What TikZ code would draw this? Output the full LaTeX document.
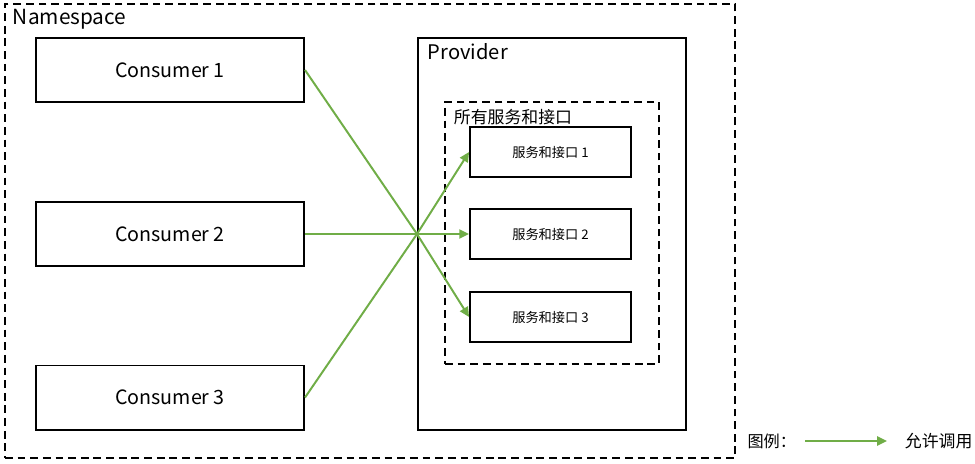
\documentclass[tikz,border=0pt]{standalone}
\usepackage{fontspec}
\setmainfont{Noto Sans CJK SC}
\usetikzlibrary{arrows.meta}
\definecolor{callgreen}{HTML}{70AD47}
\tikzset{
	box/.style={draw, line width=1.4pt, minimum width=6.7cm, minimum height=1.6cm, inner sep=0pt, font=\fontsize{14}{16}\selectfont},
	svcbox/.style={draw, line width=1.4pt, minimum width=4.02cm, minimum height=1.25cm, inner sep=0pt, font=\fontsize{9.4}{11}\selectfont},
	frame/.style={draw, line width=1.4pt, dash pattern=on 5.5pt off 3.5pt, inner sep=0pt},
	call/.style={callgreen, line width=1.4pt, -{Triangle[length=7pt,width=6.5pt]}},
}
\begin{document}
\begin{tikzpicture}[x=0.025cm, y=-0.025cm, line join=miter]
	\useasboundingbox (0,0) rectangle (975,463);
	%\draw[gray!40] (0,0) grid[step=50] (975,463);
	% namespace frame
	\node[frame, minimum width=18.25cm, minimum height=11.35cm] (ns) at (370,231) {};
	\node[anchor=west, font=\fontsize{14.8}{17}\selectfont] (nslabel) at (8,19) {Namespace};
	% consumers
	\node[box] (c1) at (170,70) {Consumer 1};
	\node[box] (c2) at (170,234) {Consumer 2};
	\node[box] (c3) at (170,397.5) {Consumer 3};
	% provider
	\node[box, minimum height=9.8cm] (prov) at (552,234) {};
	\node[anchor=west, font=\fontsize{14.3}{16}\selectfont] (provlabel) at (423,52) {Provider};
	\node[frame, minimum width=5.35cm, minimum height=6.55cm] (all) at (552,233) {};
	\node[anchor=west, font=\fontsize{12}{14}\selectfont] (alllabel) at (449,117) {所有服务和接口};
	\node[svcbox] (s1) at (550.5,152) {服务和接口 1};
	\node[svcbox] (s2) at (550.5,234) {服务和接口 2};
	\node[svcbox] (s3) at (550.5,317) {服务和接口 3};
	% calls
	\coordinate (x) at (prov.west);
	\draw[call] (c1.east) -- (x) -- (s3.west);
	\draw[call] (c2.east) -- (x) -- (s2.west);
	\draw[call] (c3.east) -- (x) -- (s1.west);
	% legend
	\node[anchor=east, font=\fontsize{11.5}{13}\selectfont] (legend) at (801,441) {图例：};
	\coordinate (la) at (805,441);
	\coordinate (lb) at (887,441);
	\draw[call] (la) -- (lb);
	\node[anchor=west, font=\fontsize{12}{14}\selectfont] (legendtext) at (900,441) {允许调用};
\end{tikzpicture}
\end{document}
